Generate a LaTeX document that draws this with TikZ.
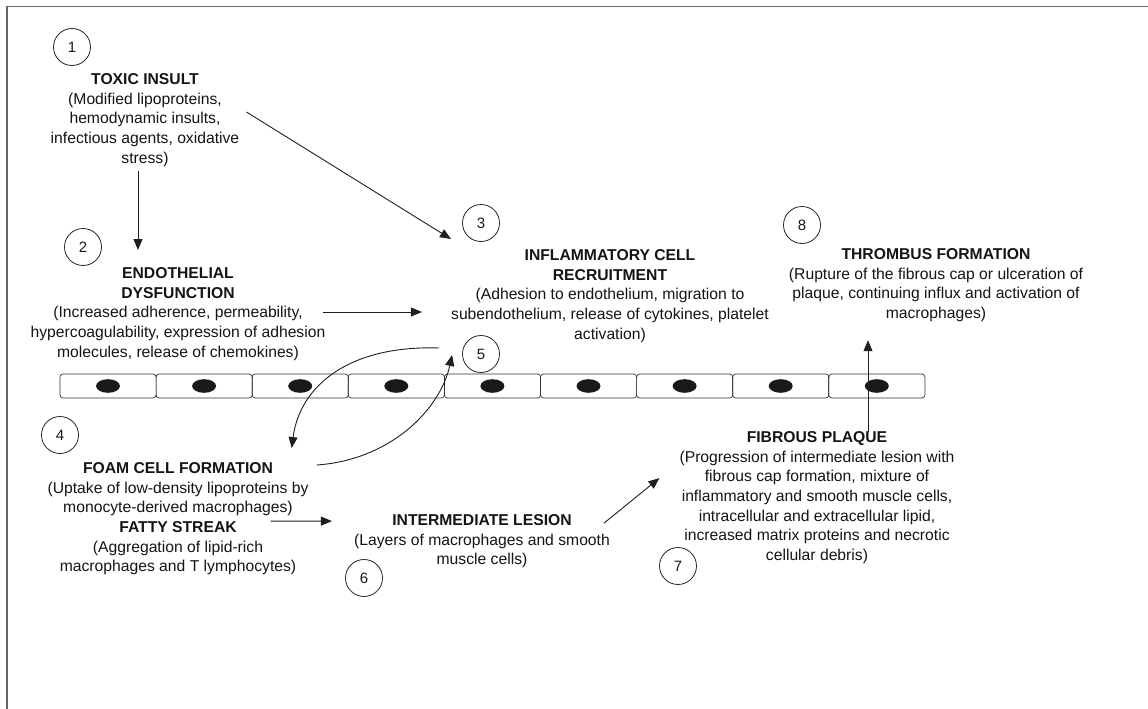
\documentclass[tikz,border=0pt]{standalone}
\usepackage{fontspec}
\setmainfont{Liberation Sans}
\usetikzlibrary{arrows.meta}
\tikzset{
  txt/.style={align=center, inner sep=0pt, anchor=north, text=black!92,
    font=\fontsize{15.7}{19.6}\selectfont},
  num/.style={circle, draw=black!85, line width=0.8pt, minimum size=37pt, inner sep=0pt,
    text=black!90, font=\fontsize{15}{18}\selectfont},
  arr/.style={draw=black!88, line width=0.9pt, -{Triangle[length=11pt,width=9pt]}},
  cellbox/.style={draw=black!80, line width=0.7pt, rounded corners=3pt},
  nucleus/.style={fill=black!90},
  frame/.style={draw=black!60, line width=1.4pt}
}
\begin{document}
\begin{tikzpicture}[x=1pt,y=1pt]
\useasboundingbox (0,0) rectangle (1148,-709);
\draw[frame] (7,-709) -- (7,-6.5) -- (1148,-6.5);

% endothelial cell row
\foreach \i in {0,...,8}{
  \draw[cellbox] ({60+96.1*\i},-374) rectangle ({60+96.1*(\i+1)},-398);
  \fill[nucleus] ({60+96.1*\i+48},-386) ellipse (12 and 6.8);
}

% numbered circles
\node[num] (n1) at (72,-47) {1};
\node[num] (n2) at (83,-247) {2};
\node[num] (n3) at (481,-223) {3};
\node[num] (n8) at (802,-225) {8};
\node[num] (n5) at (481,-354) {5};
\node[num] (n4) at (60,-435) {4};
\node[num] (n6) at (364,-578) {6};
\node[num] (n7) at (678,-566) {7};

% text blocks
\node[txt] (t1) at (145,-73.5) {\textbf{TOXIC INSULT}\\(Modified lipoproteins,\\hemodynamic insults,\\infectious agents, oxidative\\stress)};
\node[txt] (t2) at (178,-267.5) {\textbf{ENDOTHELIAL}\\\textbf{DYSFUNCTION}\\(Increased adherence, permeability,\\hypercoagulability, expression of adhesion\\molecules, release of chemokines)};
\node[txt] (t3) at (610,-249.5) {\textbf{INFLAMMATORY CELL}\\\textbf{RECRUITMENT}\\(Adhesion to endothelium, migration to\\subendothelium, release of cytokines, platelet\\activation)};
\node[txt] (t8) at (936,-248.5) {\textbf{THROMBUS FORMATION}\\(Rupture of the fibrous cap or ulceration of\\plaque, continuing influx and activation of\\macrophages)};
\node[txt] (t4) at (178,-462.5) {\textbf{FOAM CELL FORMATION}\\(Uptake of low-density lipoproteins by\\monocyte-derived macrophages)\\\textbf{FATTY STREAK}\\(Aggregation of lipid-rich\\macrophages and T lymphocytes)};
\node[txt] (t6) at (482,-514.5) {\textbf{INTERMEDIATE LESION}\\(Layers of macrophages and smooth\\muscle cells)};
\node[txt] (t7) at (817,-431.5) {\textbf{FIBROUS PLAQUE}\\(Progression of intermediate lesion with\\fibrous cap formation, mixture of\\inflammatory and smooth muscle cells,\\intracellular and extracellular lipid,\\increased matrix proteins and necrotic\\cellular debris)};

% connectors
\draw[arr] ([xshift=-7pt,yshift=-4pt]t1.south) -- ([xshift=-40pt,yshift=17.5pt]t2.north);
\draw[arr] ([shift={(7pt,8pt)}]t1.east) -- ([yshift=10.5pt]t3.north west);
\draw[arr] ([xshift=-3pt,yshift=2pt]t2.east) -- ([xshift=-29pt,yshift=-16pt]t3.west);
\draw[arr] ([shift={(-23pt,6pt)}]n5.west) .. controls (350,-345) and (300,-385) .. ([shift={(-17pt,14.5pt)}]t4.north east);
\draw[arr] ([shift={(8pt,-2.5pt)}]t4.north east) .. controls (390,-460) and (440,-410) .. ([shift={(-10pt,-1pt)}]n5.west);
\draw[arr] ([xshift=-38pt,yshift=-2.3pt]t4.east) -- ([shift={(-22pt,20.3pt)}]t6.west);
\draw[arr] ([shift={(-6pt,18.3pt)}]t6.east) -- ([shift={(-20pt,19.5pt)}]t7.west);
\draw[arr] ([xshift=51pt]t7.north) -- ([shift={(-68pt,-18.3pt)}]t8.south);
\end{tikzpicture}
\end{document}
